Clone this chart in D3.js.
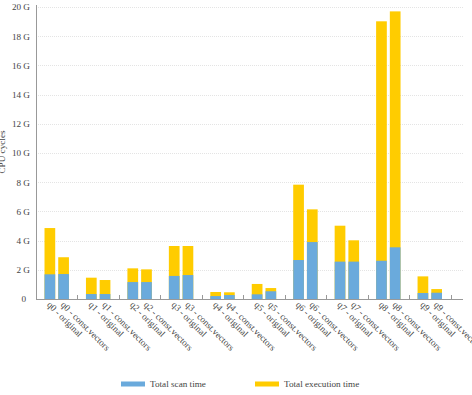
<!DOCTYPE html>
<html><head><meta charset="utf-8">
<script src="https://cdn.jsdelivr.net/npm/d3@7"></script>
<style>
body{margin:0;background:#fff;}
text{font-family:"Liberation Serif","DejaVu Serif",serif;fill:#444;}
</style></head>
<body><svg id="c" width="472" height="395"></svg>
<script>
const queries = ["q0","q1","q2","q3","q4","q5","q6","q7","q8","q9"];
const variants = ["original","const.vectors"];
// values in G cycles, [original, const.vectors]
const scanTime = [[1.69,1.71],[0.34,0.34],[1.16,1.16],[1.58,1.64],[0.20,0.27],[0.32,0.53],[2.67,3.90],[2.56,2.56],[2.62,3.54],[0.41,0.43]];
const execTime = [[4.86,2.86],[1.46,1.30],[2.10,2.03],[3.63,3.63],[0.48,0.46],[1.03,0.75],[7.83,6.14],[5.02,4.02],[19.02,19.7],[1.55,0.68]];
const yTicks = [0,2,4,6,8,10,12,14,16,18,20];
const seriesNames = ["Total scan time","Total execution time"];
const colors = ["#6aaadc","#ffcc00"];

(function(){
const svg = d3.select("#c");
// calibrate font size so legend text width matches the reference
const probe = svg.append("text").attr("font-size",10).text(seriesNames[0]);
const w = probe.node().getComputedTextLength();
probe.remove();
const fs = Math.max(8, Math.min(11, 10 * 56 / w));

const mL = 36, mR = 463, mT = 7, mB = 299;
const x0 = d3.scaleBand().domain(queries).range([mL, 450.5]).padding(0);
const x1 = d3.scaleBand().domain(variants).range([0, x0.bandwidth()]).paddingInner(0.22).paddingOuter(0.62);
const y = d3.scaleLinear().domain([0,20]).range([mB, mT]);

// gridlines
svg.append("g").selectAll("line").data(yTicks.filter(d=>d>0)).join("line")
  .attr("x1", mL).attr("x2", mR).attr("y1", d=>Math.round(y(d))+0.5).attr("y2", d=>Math.round(y(d))+0.5)
  .attr("stroke","#e4e4e4").attr("stroke-width",1).attr("stroke-dasharray","1,1");

// bars
const groups = svg.append("g").selectAll("g").data(queries).join("g")
  .attr("transform", q=>`translate(${x0(q)},0)`);
groups.each(function(q,i){
  const g = d3.select(this);
  variants.forEach((v,j)=>{
    g.append("rect").attr("x", x1(v)).attr("width", x1.bandwidth())
      .attr("y", y(execTime[i][j])).attr("height", y(0)-y(execTime[i][j])).attr("fill", colors[1]);
    g.append("rect").attr("x", x1(v)).attr("width", x1.bandwidth())
      .attr("y", y(scanTime[i][j])).attr("height", y(0)-y(scanTime[i][j])).attr("fill", colors[0]);
  });
});

// y axis
const yAxis = d3.axisLeft(y).tickValues(yTicks).tickSize(0).tickPadding(6)
  .tickFormat(d=> d===0 ? "0" : d + " G");
const ya = svg.append("g").attr("transform",`translate(${mL},0)`).call(yAxis);
ya.select(".domain").attr("stroke","#999").attr("d",`M0.5,${mT-2}V${mB}`);
ya.selectAll("text").attr("font-size",fs).attr("fill","#444").attr("dx", d=> d===0 ? -4 : 0);

// x axis line and ticks
svg.append("line").attr("x1",mL).attr("x2",mR).attr("y1",mB+0.5).attr("y2",mB+0.5).attr("stroke","#999");
svg.append("g").selectAll("line").data(queries).join("line")
  .attr("x1",q=>Math.round(x0(q)+x0.bandwidth())+0.5)
  .attr("x2",q=>Math.round(x0(q)+x0.bandwidth())+0.5)
  .attr("y1",mB-4).attr("y2",mB+1).attr("stroke","#999");

// x labels
const labels = [];
queries.forEach(q=>variants.forEach(v=>labels.push({q,v})));
svg.append("g").selectAll("text").data(labels).join("text")
  .attr("transform", d=>`translate(${x0(d.q)+x1(d.v)+x1.bandwidth()/2-1},${mB+4}) rotate(45)`)
  .attr("dy","0.35em").attr("font-size",fs).attr("fill","#444")
  .text(d=>`${d.q} - ${d.v}`);

// y title
svg.append("text").attr("transform",`translate(5,152) rotate(-90)`)
  .attr("text-anchor","middle").attr("font-size",fs).attr("fill","#444").text("CPU cycles");

// legend
const lx = [121, 255];
const leg = svg.append("g").selectAll("g").data(seriesNames).join("g")
  .attr("transform",(d,i)=>`translate(${lx[i]},384)`);
leg.append("rect").attr("x",0).attr("y",-2.5).attr("width",24).attr("height",5).attr("fill",(d,i)=>colors[i]);
leg.append("text").attr("x",29).attr("dy","0.35em").attr("font-size",fs).attr("fill","#444").text(d=>d);
})();
</script></body></html>
